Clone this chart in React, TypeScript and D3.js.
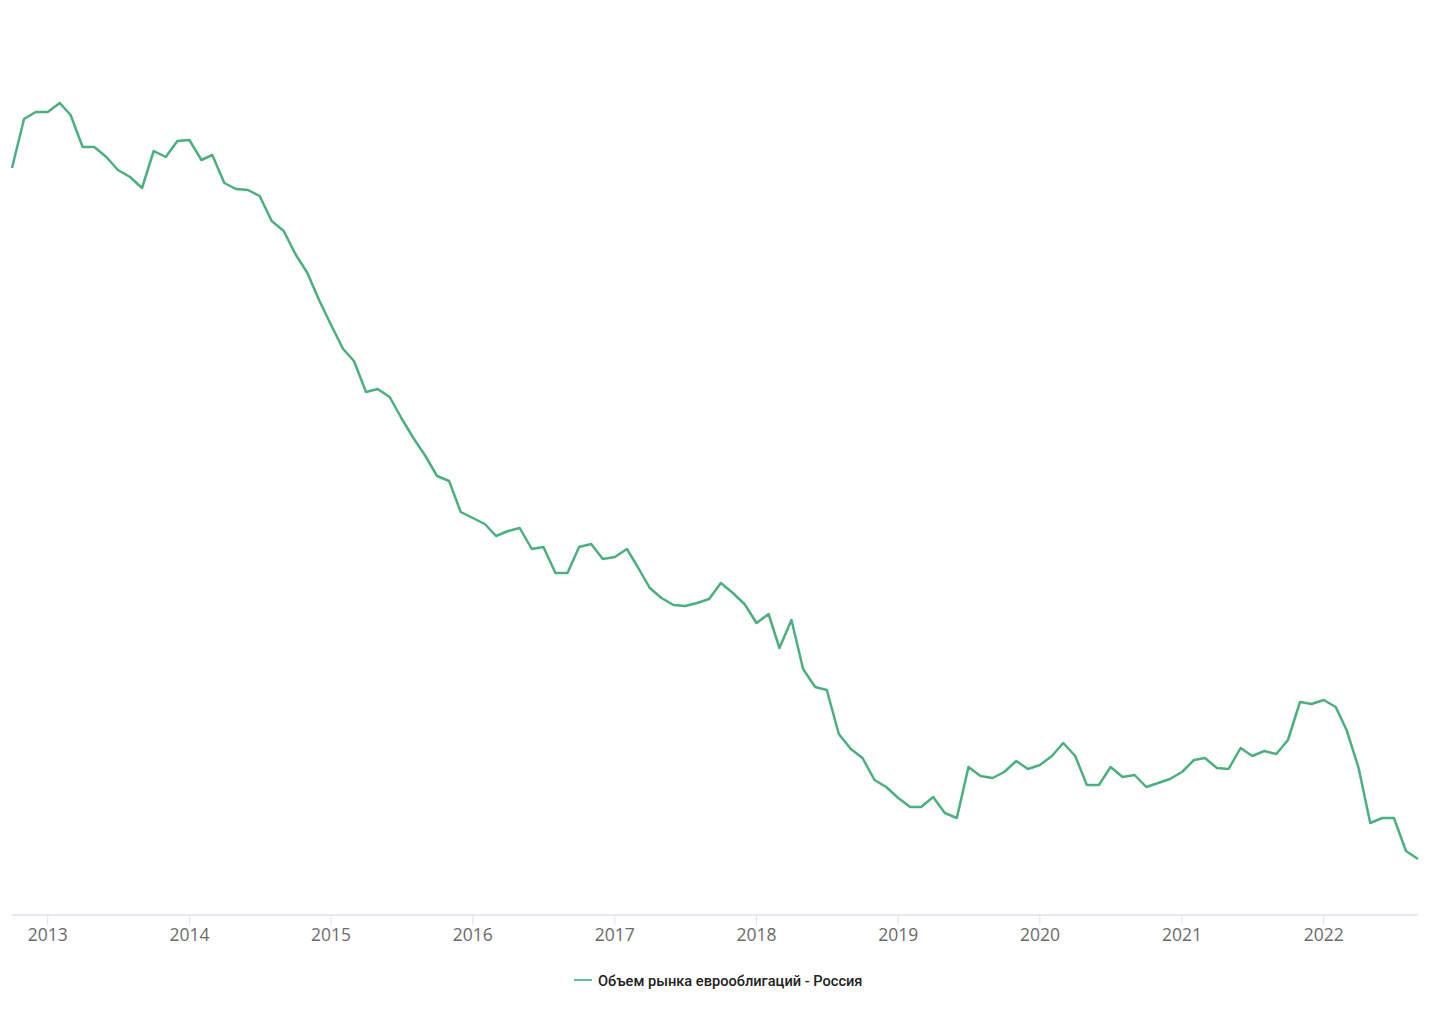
import React from "react";
import * as d3 from "d3";

const startYear = 2012;
const startMonth = 9; // October (0-based)
const values: number[] = [
  149.4, 159.2, 160.6,
  160.6, 162.4, 160.0, 153.6, 153.6, 151.6, 149.0, 147.6, 145.4, 152.8, 151.6, 154.8,
  155.0, 151.0, 152.0, 146.4, 145.2, 145.0, 143.8, 138.8, 136.8, 132.2, 128.4, 123.0,
  118.0, 113.2, 110.8, 104.6, 105.2, 103.6, 99.4, 95.4, 91.8, 87.8, 86.8, 80.6,
  79.4, 78.2, 75.8, 76.8, 77.4, 73.2, 73.6, 68.4, 68.4, 73.6, 74.2, 71.2,
  71.6, 73.2, 69.6, 65.4, 63.4, 62.0, 61.8, 62.4, 63.2, 66.4, 64.4, 62.2,
  58.4, 60.2, 53.4, 59.0, 49.2, 45.6, 45.0, 36.2, 33.2, 31.4, 27.0, 25.6,
  23.4, 21.6, 21.6, 23.6, 20.4, 19.4, 29.6, 27.8, 27.4, 28.6, 30.8, 29.2,
  30.0, 31.8, 34.4, 31.8, 26.0, 26.0, 29.6, 27.6, 28.0, 25.6, 26.4, 27.2,
  28.6, 31.0, 31.4, 29.4, 29.2, 33.4, 31.8, 32.8, 32.2, 35.0, 42.6, 42.2,
  43.0, 41.6, 37.0, 29.4, 18.4, 19.4, 19.4, 12.8, 11.2,
];
const tickYears = [2013, 2014, 2015, 2016, 2017, 2018, 2019, 2020, 2021, 2022];
const seriesName = "Объем рынка еврооблигаций - Россия";

const W = 1430;
const H = 1016;

export default function App() {
  const data = values.map((v, i) => ({ date: new Date(startYear, startMonth + i, 1), v }));
  const x = d3
    .scaleTime()
    .domain([data[0].date, data[data.length - 1].date])
    .range([12, 1418]);
  const y = d3.scaleLinear().domain([0, 167]).range([915, 80]);
  const line = d3
    .line<{ date: Date; v: number }>()
    .x((d) => x(d.date))
    .y((d) => y(d.v));
  const color = "#4caf7f";
  return (
    <svg
      width={W}
      height={H}
      style={{ position: "absolute", left: 0, top: 0, background: "#fff" }}
    >
      <line x1={12} x2={1418} y1={915} y2={915} stroke="#dce3ec" strokeWidth={1.5} />
      {tickYears.map((yr) => {
        const tx = x(new Date(yr, 0, 1));
        return (
          <g key={yr}>
            <line x1={tx} x2={tx} y1={915} y2={925} stroke="#dce3ec" strokeWidth={1} />
            <text
              x={tx}
              y={941}
              textAnchor="middle"
              fontFamily="'Open Sans', sans-serif"
              fontSize={17.5}
              fill="#6b6b6b"
            >
              {yr}
            </text>
          </g>
        );
      })}
      <path
        d={line(data) || ""}
        fill="none"
        stroke={color}
        strokeWidth={2.5}
        strokeLinejoin="round"
      />
      <line x1={574} x2={592} y1={980} y2={980} stroke="#5cc593" strokeWidth={2} />
      <text
        x={598}
        y={985.5}
        fontFamily="Roboto, sans-serif"
        fontWeight={500}
        fontSize={14.6}
        fill="#222"
      >
        {seriesName}
      </text>
    </svg>
  );
}
